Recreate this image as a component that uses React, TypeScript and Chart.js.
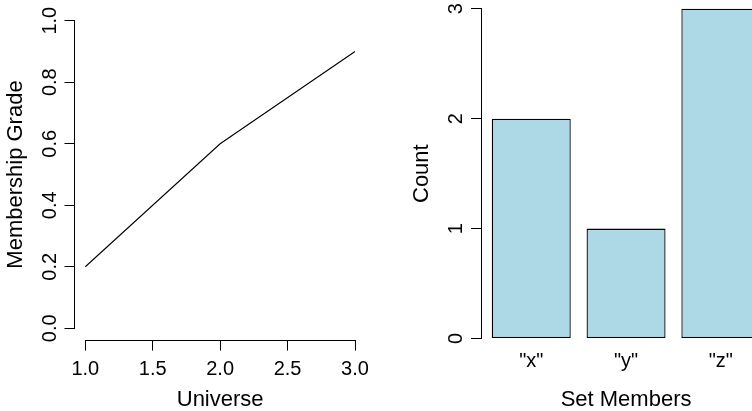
import React, { useEffect, useRef } from "react";
import { Chart, registerables } from "chart.js";

Chart.register(...registerables);

// ---- Left panel: membership function ----
const universe = [1, 2, 3];
const membership = [0.2, 0.6, 0.9];
const universeTicks = [1.0, 1.5, 2.0, 2.5, 3.0];
const gradeTicks = [0.0, 0.2, 0.4, 0.6, 0.8, 1.0];

// ---- Right panel: bar plot ----
const setMembers = ['"x"', '"y"', '"z"'];
const counts = [2, 1, 3];
const countTicks = [0, 1, 2, 3];

const FONT = "'Liberation Sans', Arial, Helvetica, sans-serif";
const TICK_FONT = { family: FONT, size: 20, lineHeight: 1.2 };
const TITLE_FONT = { family: FONT, size: 22, lineHeight: 1 };

// R-style axis line spanning only from first to last tick
const rAxisLines = {
  id: "rAxisLines",
  afterDatasetsDraw(chart: any, _args: any, opts: any) {
    const { ctx, chartArea, scales } = chart;
    const align = (p: number) => Math.round(p - 0.5) + 0.5;
    ctx.save();
    ctx.strokeStyle = "#000";
    ctx.lineWidth = 1;
    (opts.axes || []).forEach((id: string) => {
      const s = scales[id];
      const t = s.ticks;
      if (!t || !t.length) return;
      const a = align(s.getPixelForValue(t[0].value));
      const b = align(s.getPixelForValue(t[t.length - 1].value));
      ctx.beginPath();
      if (s.isHorizontal()) {
        const y = align(chartArea.bottom);
        ctx.moveTo(a - 0.5, y);
        ctx.lineTo(b + 0.5, y);
      } else {
        const x = align(chartArea.left);
        ctx.moveTo(x, a + 0.5);
        ctx.lineTo(x, b - 0.5);
      }
      ctx.stroke();
    });
    ctx.restore();
  },
};

const noPad = (s: any) => {
  s.paddingTop = 0;
  s.paddingBottom = 0;
  s.paddingLeft = 0;
  s.paddingRight = 0;
};

export default function App() {
  const leftRef = useRef<HTMLCanvasElement | null>(null);
  const rightRef = useRef<HTMLCanvasElement | null>(null);

  useEffect(() => {
    // R default axis extension (4%)
    const xMin = Math.min(...universe), xMax = Math.max(...universe);
    const xExt = (xMax - xMin) * 0.04;
    const yLo = 0, yHi = 1;
    const yExt = (yHi - yLo) * 0.04;

    const left = new Chart(leftRef.current as HTMLCanvasElement, {
      type: "line",
      data: {
        datasets: [
          {
            data: universe.map((x, i) => ({ x, y: membership[i] })),
            borderColor: "#000",
            borderWidth: 1.1,
            pointRadius: 0,
            tension: 0,
            fill: false,
          },
        ],
      },
      options: {
        animation: false,
        responsive: false,
        devicePixelRatio: 1,
        layout: { padding: { left: 0, top: 8.4, right: 10.2, bottom: 0 } },
        plugins: {
          legend: { display: false },
          tooltip: { enabled: false },
          rAxisLines: { axes: ["x", "y"] },
        } as any,
        scales: {
          x: {
            type: "linear",
            position: "bottom",
            min: xMin - xExt,
            max: xMax + xExt,
            afterBuildTicks: (s: any) => {
              s.ticks = universeTicks.map((v) => ({ value: v }));
            },
            afterFit: (s: any) => {
              s.height = 70.4;
              noPad(s);
            },
            ticks: {
              callback: (v: any) => Number(v).toFixed(1),
              font: TICK_FONT,
              color: "#000",
              padding: 7,
              autoSkip: false,
              maxRotation: 0,
              minRotation: 0,
            },
            grid: { drawOnChartArea: false, drawTicks: true, tickLength: 10, color: "#000", lineWidth: 1 },
            border: { display: false },
            title: {
              display: true,
              text: "Universe",
              font: TITLE_FONT,
              color: "#000",
              padding: { top: 0, bottom: 0 },
            },
          },
          y: {
            type: "linear",
            position: "left",
            min: yLo - yExt,
            max: yHi + yExt,
            afterBuildTicks: (s: any) => {
              s.ticks = gradeTicks.map((v) => ({ value: v }));
            },
            afterFit: (s: any) => {
              s.width = 74.5;
              noPad(s);
            },
            ticks: {
              callback: (v: any) => Number(v).toFixed(1),
              font: TICK_FONT,
              color: "#000",
              padding: 0.5,
              minRotation: 90,
              maxRotation: 90,
              crossAlign: "center",
              autoSkip: false,
            },
            grid: { drawOnChartArea: false, drawTicks: true, tickLength: 10, color: "#000", lineWidth: 1 },
            border: { display: false },
            title: {
              display: true,
              text: "Membership Grade",
              font: TITLE_FONT,
              color: "#000",
              padding: { top: 4.7, bottom: 0 },
            },
          },
        },
      } as any,
      plugins: [rAxisLines as any],
    });

    // barplot layout: width 1, space 0.2
    const space = 0.2, width = 1;
    const centers = counts.map((_, i) => space + width / 2 + i * (width + space));
    const bl = space, br = counts.length * (width + space);
    const bxExt = (br - bl) * 0.04;
    const cMax = Math.max(...counts);
    const byExt = cMax * 0.04;

    const right = new Chart(rightRef.current as HTMLCanvasElement, {
      type: "bar",
      data: {
        datasets: [
          {
            data: counts.map((c, i) => ({ x: centers[i], y: c })),
            backgroundColor: "#ADD8E6",
            borderColor: "#000",
            borderWidth: 1.3,
            borderSkipped: false,
            barPercentage: width / (width + space),
            categoryPercentage: 1,
          },
        ],
      },
      options: {
        animation: false,
        responsive: false,
        devicePixelRatio: 1,
        layout: { padding: { left: 0, top: 0.6, right: 4.9, bottom: 0 } },
        plugins: {
          legend: { display: false },
          tooltip: { enabled: false },
          rAxisLines: { axes: ["y"] },
        } as any,
        scales: {
          x: {
            type: "linear",
            position: "bottom",
            offset: false,
            min: bl - bxExt,
            max: br + bxExt,
            afterBuildTicks: (s: any) => {
              s.ticks = centers.map((v) => ({ value: v }));
            },
            afterFit: (s: any) => {
              s.height = 59.3;
              noPad(s);
            },
            ticks: {
              callback: (_v: any, i: number) => setMembers[i],
              font: { family: FONT, size: 20, lineHeight: 1 },
              color: "#000",
              padding: 0,
              autoSkip: false,
              maxRotation: 0,
              minRotation: 0,
            },
            grid: { display: false, drawTicks: false, offset: false },
            border: { display: false },
            title: {
              display: true,
              text: "Set Members",
              font: TITLE_FONT,
              color: "#000",
              padding: { top: 0, bottom: 0 },
            },
          },
          y: {
            type: "linear",
            position: "left",
            min: -byExt,
            max: cMax + byExt,
            afterBuildTicks: (s: any) => {
              s.ticks = countTicks.map((v) => ({ value: v }));
            },
            afterFit: (s: any) => {
              s.width = 105;
              noPad(s);
            },
            ticks: {
              callback: (v: any) => String(v),
              font: TICK_FONT,
              color: "#000",
              padding: 9,
              minRotation: 90,
              maxRotation: 90,
              crossAlign: "center",
              autoSkip: false,
            },
            grid: { drawOnChartArea: false, drawTicks: true, tickLength: 10, color: "#000", lineWidth: 1 },
            border: { display: false },
            title: {
              display: true,
              text: "Count",
              font: TITLE_FONT,
              color: "#000",
              padding: { top: 34.7, bottom: 0 },
            },
          },
        },
      } as any,
      plugins: [rAxisLines as any],
    });

    return () => {
      left.destroy();
      right.destroy();
    };
  }, []);

  return (
    <div
      style={{
        position: "fixed",
        left: 0,
        top: 0,
        width: 752,
        height: 411,
        overflow: "hidden",
        background: "#fff",
      }}
    >
      <canvas
        ref={leftRef}
        width={376}
        height={411}
        style={{ position: "absolute", left: 0, top: 0, width: 376, height: 411, display: "block" }}
      />
      <canvas
        ref={rightRef}
        width={400}
        height={416}
        style={{ position: "absolute", left: 376, top: -5, width: 400, height: 416, display: "block" }}
      />
    </div>
  );
}
